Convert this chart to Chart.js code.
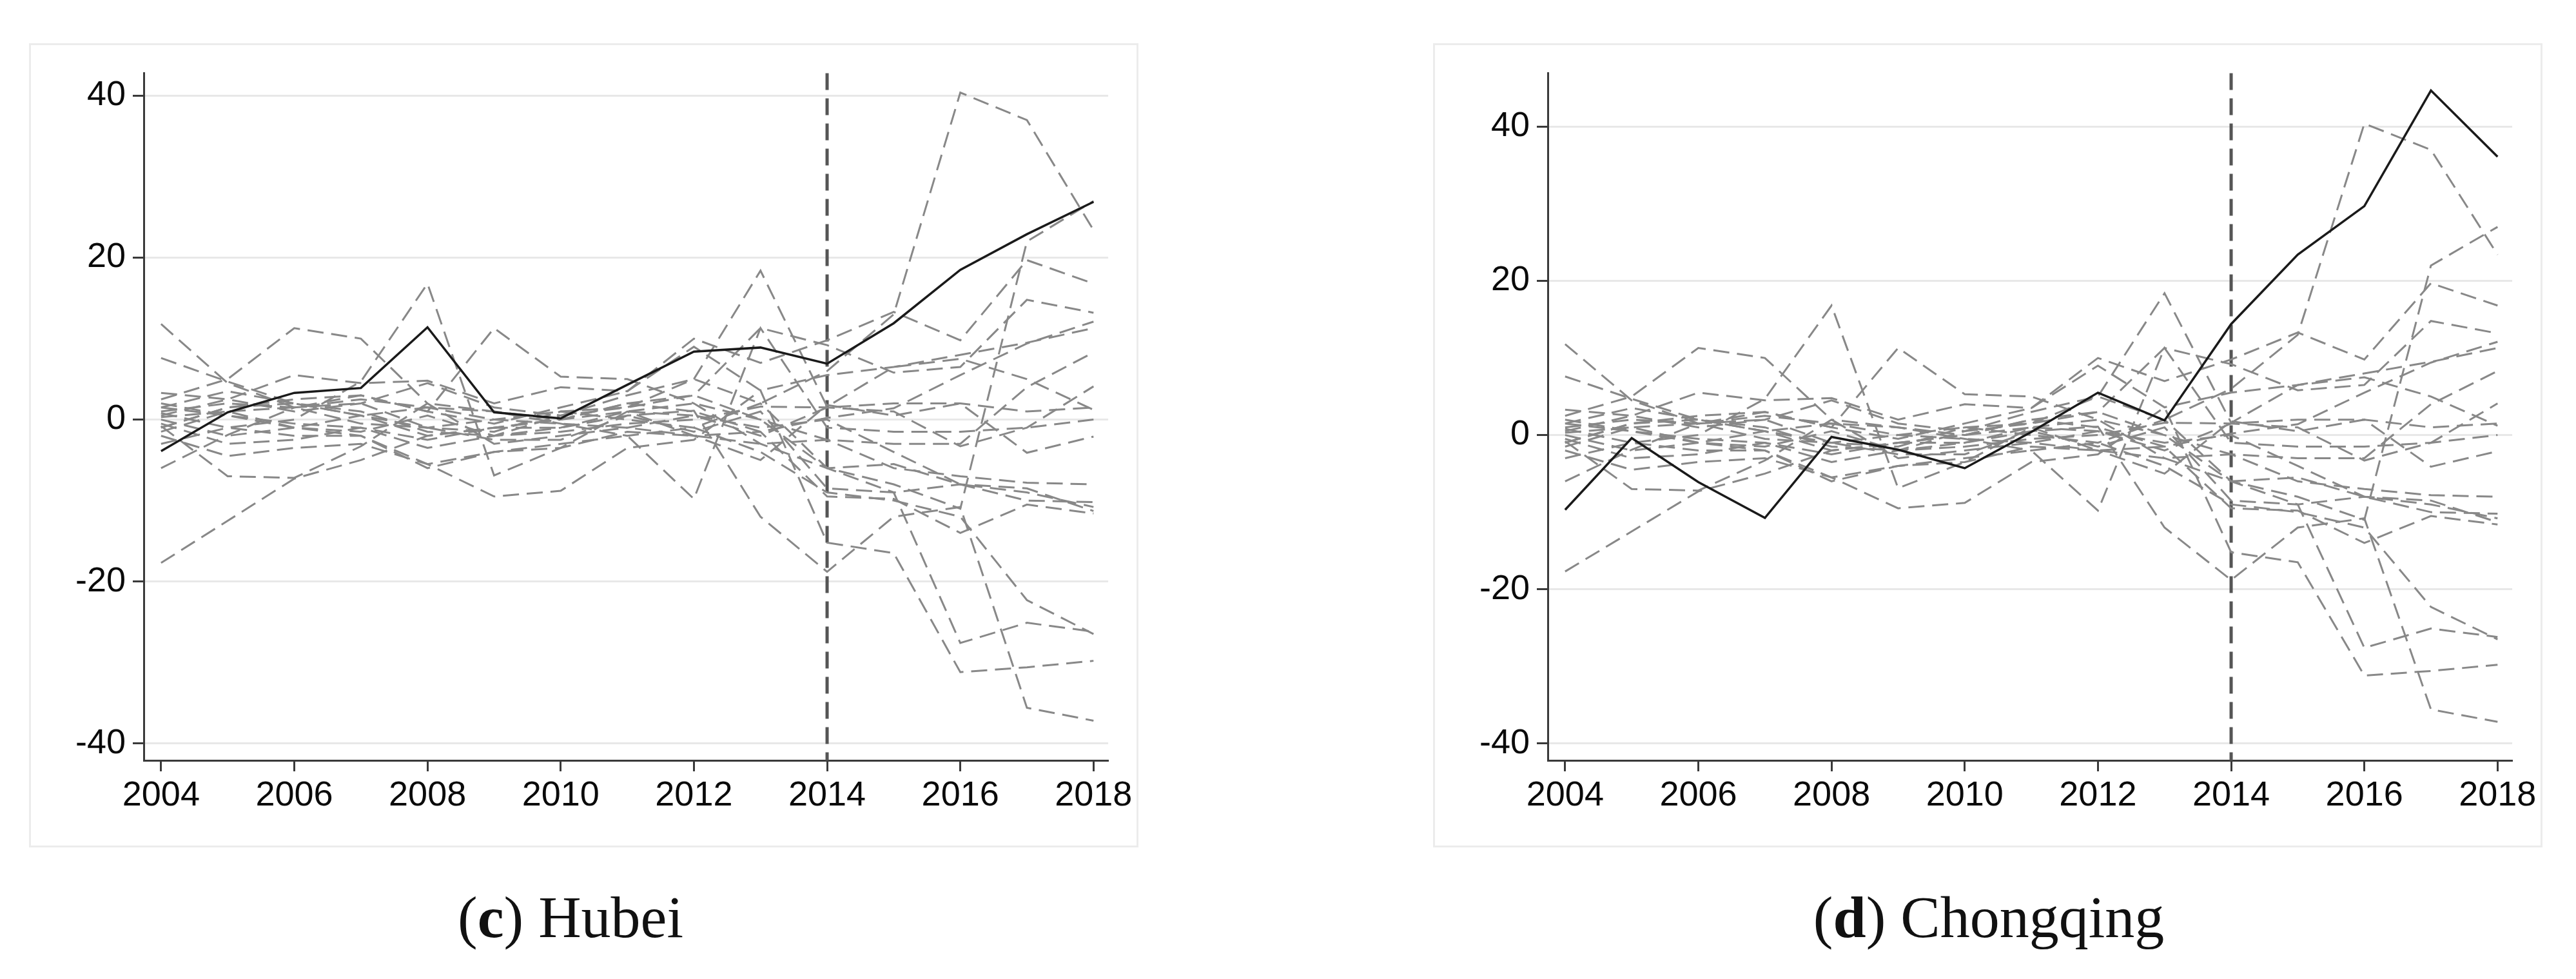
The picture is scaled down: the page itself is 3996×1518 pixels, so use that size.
<!DOCTYPE html>
<html>
<head>
<meta charset="utf-8">
<script src="https://cdn.jsdelivr.net/npm/chart.js@4.4.1/dist/chart.umd.min.js"></script>
<style>
  body { margin: 0; background: #fff; width: 3996px; height: 1518px; position: relative; overflow: hidden; }
  .panel { position: absolute; top: 67px; width: 1715px; height: 1241px; border: 3px solid #ececec; background: #fff; }
  .panel canvas { display: block; }
  .caption { position: absolute; top: 1376px; width: 1000px; text-align: center;
             font-family: 'Liberation Serif', serif; font-size: 92px; line-height: 92px; color: #111; }
</style>
</head>
<body>
<div class="panel" style="left:45px"><canvas id="hubei" width="1715" height="1241"></canvas></div>
<div class="panel" style="left:2223px"><canvas id="chongqing" width="1715" height="1241"></canvas></div>
<div class="caption" style="left:385px">(<b>c</b>) Hubei</div>
<div class="caption" style="left:2585px">(<b>d</b>) Chongqing</div>
<script>
// years and tick labels
const years = [2004, 2005, 2006, 2007, 2008, 2009, 2010, 2011, 2012, 2013, 2014, 2015, 2016, 2017, 2018]
const xTicks = [2004, 2006, 2008, 2010, 2012, 2014, 2016, 2018]
const yTicks = [-40, -20, 0, 20, 40]
const treatYear = 2014

// treated provinces (gap between actual and synthetic)
const hubei = [-3.9, 0.9, 3.3, 3.9, 11.4, 0.9, 0.15, 4.3, 8.4, 8.9, 6.9, 11.9, 18.5, 22.9, 26.9]
const chongqing = [-9.7, -0.4, -6.1, -10.75, -0.24, -1.9, -4.3, 0.4, 5.5, 1.9, 14.4, 23.4, 29.7, 44.7, 36.1]

// placebo gaps (other provinces)
const p01 = [1.5, 3.5, 2, 1, -1.5, -2, 0.5, 3, 5, 2, 6, 13, 40.4, 37, 23.4]
const p02 = [0.5, 2.5, 5.5, 4.5, 4.8, 2, 4, 3.5, 10, 7, 9.8, 13.3, 9.8, 19.7, 16.8]
const p03 = [-1, 1.5, 2, 0.5, -1, -1.5, 1, 1.5, 3, 11.3, 9.2, 5.8, 6.5, 14.8, 13.2]
const p04 = [0, -2, -1, 0.5, -2, -1, 0, 2, 1, -1.5, 0.2, 1.4, 5.5, 9.4, 12.1]
const p05 = [-1.5, 1, 1.5, 3, 1, -0.5, 1.5, 3.5, 9, 3.6, 5.5, 6.5, 8, 9.5, 11.3]
const p06 = [2, 0.5, -1, -1.5, 0.5, -2, -1, 1, 2, 0, -2.5, -3, -3, 4, 8.3]
const p07 = [-0.5, -3, -2.5, -1, -3.5, -2, -1.5, -0.5, 0, 1.6, 1.5, 1, -3.3, -1, 4.1]
const p08 = [1, 2, 1.5, 2.5, 1.5, 0, -0.5, -1, -2, -5, 1.8, 0.5, 2, -4.1, -2.1]
const p09 = [3.3, 2.5, 1, 2, 4.5, 1.5, 0.5, 1.5, 5, 18.4, 1.6, 6.5, 7.5, 5, 1.2]
const p10 = [-2, -4.5, -3.5, -3, -5.5, -4, -3, -2, -9.8, 11.3, -1, -1.5, -1.5, -1, 0]
const p11 = [0.8, -1, -2, -2, -6, -4, -3.5, -1.5, -2, -3, -2.5, -6, -7, -7.8, -8]
const p12 = [-1, 1.5, 2.5, 3, 1, 11.3, 5.3, 5, 2, -3, -6, -5.5, -8, -10, -10.2]
const p13 = [1.5, 0.5, -0.5, -1, -2.5, -1, -1, 0.5, -1.5, 1, -8.5, -9, -8, -8.5, -11.3]
const p14 = [-0.8, -7, -7.2, -3.3, 2, 1, -0.5, -2, -1, -4, -9, -10, -12, -22.3, -26.5]
const p15 = [0.3, 1, -1, -2, -5.5, -9.5, -8.8, -3.5, -2.5, 3.6, -15.2, -16.5, -31.2, -30.6, -29.8]
const p16 = [-6, -1.9, 1.5, 2, -1, -2.5, -2.5, 0.5, 1.1, -12, -18.8, -12, -10.8, -35.6, -37.2]
const p17 = [7.6, 4.7, 2, 0.5, 1.5, 1, 0, 2, 3, 0, -6, -9, -27.6, -25.1, -26.2]
const p18 = [11.8, 4.5, 1.5, -0.5, -1, 0, 1, 0, -1, 2, -6, -8, -11, 22, 27]
const p19 = [-17.7, -12.5, -7.3, -5, -2, -1, 0, 1, 0.5, -2, 1.5, 2, 2, 1, 1.5]
const p20 = [2.5, 5, 11.3, 10, 2, -3, -2, -1, 0.5, -1, 0, -4, -8, -9, -10.8]
const p21 = [-3, -1, 0, 4.7, 16.8, -6.9, -3.5, 1, -2, -1.5, -9.5, -9.8, -14, -10.5, -11.6]
const placebos = [p01, p02, p03, p04, p05, p06, p07, p08, p09, p10, p11, p12, p13, p14, p15, p16, p17, p18, p19, p20, p21]

const fontTicks = { family: "'Liberation Sans', Arial, sans-serif", size: 54 }
const axisColor = '#3a3a3a'

// vertical dashed line at the treatment year
const treatLine = {
    id: 'treatLine',
    beforeDatasetsDraw(chart) {
        const { ctx, chartArea, scales } = chart
        const x = scales.x.getPixelForValue(treatYear)
        ctx.save()
        ctx.strokeStyle = '#555'
        ctx.lineWidth = 5
        ctx.setLineDash([26, 13])
        ctx.beginPath()
        ctx.moveTo(x, chartArea.top)
        ctx.lineTo(x, chartArea.bottom)
        ctx.stroke()
        ctx.restore()
    }
}

const toPoints = (vals) => years.map((yr, i) => ({ x: yr, y: vals[i] }))

const makePanel = (id, treated, yMin, yMax) => {
    const datasets = placebos.map((vals) => ({
        data: toPoints(vals),
        borderColor: '#888888',
        borderWidth: 3,
        borderDash: [25, 12],
        pointRadius: 0,
        order: 1
    }))
    datasets.push({
        data: toPoints(treated),
        borderColor: '#1a1a1a',
        borderWidth: 3.5,
        pointRadius: 0,
        order: 0
    })

    new Chart(document.getElementById(id), {
        type: 'line',
        data: { datasets },
        plugins: [treatLine],
        options: {
            responsive: false,
            animation: false,
            devicePixelRatio: 1,
            layout: { padding: { top: 40, right: 41, left: 0, bottom: 0 } },
            plugins: { legend: { display: false }, tooltip: { enabled: false } },
            elements: { line: { tension: 0 } },
            scales: {
                x: {
                    type: 'linear',
                    min: 2003.74,
                    max: 2018.22,
                    afterBuildTicks: (scale) => { scale.ticks = xTicks.map(v => ({ value: v })) },
                    afterFit: (scale) => { scale.height = 132 },
                    border: { display: true, color: axisColor, width: 3 },
                    grid: { drawOnChartArea: false, tickLength: 17, tickColor: axisColor, tickWidth: 3 },
                    ticks: { font: fontTicks, color: '#0a0a0a', padding: 6, maxRotation: 0, callback: (v) => String(v) }
                },
                y: {
                    min: yMin,
                    max: yMax,
                    afterBuildTicks: (scale) => { scale.ticks = yTicks.map(v => ({ value: v })) },
                    afterFit: (scale) => { scale.width = 175 },
                    border: { display: true, color: axisColor, width: 3 },
                    grid: { color: '#e8e8e8', lineWidth: 3, tickLength: 17, tickColor: axisColor, tickWidth: 3 },
                    ticks: { font: fontTicks, color: '#0a0a0a', padding: 11, callback: (v) => String(v) }
                }
            }
        }
    })
}

makePanel('hubei', hubei, -42.1, 42.8)
makePanel('chongqing', chongqing, -42.2, 46.95)
</script>
</body>
</html>
